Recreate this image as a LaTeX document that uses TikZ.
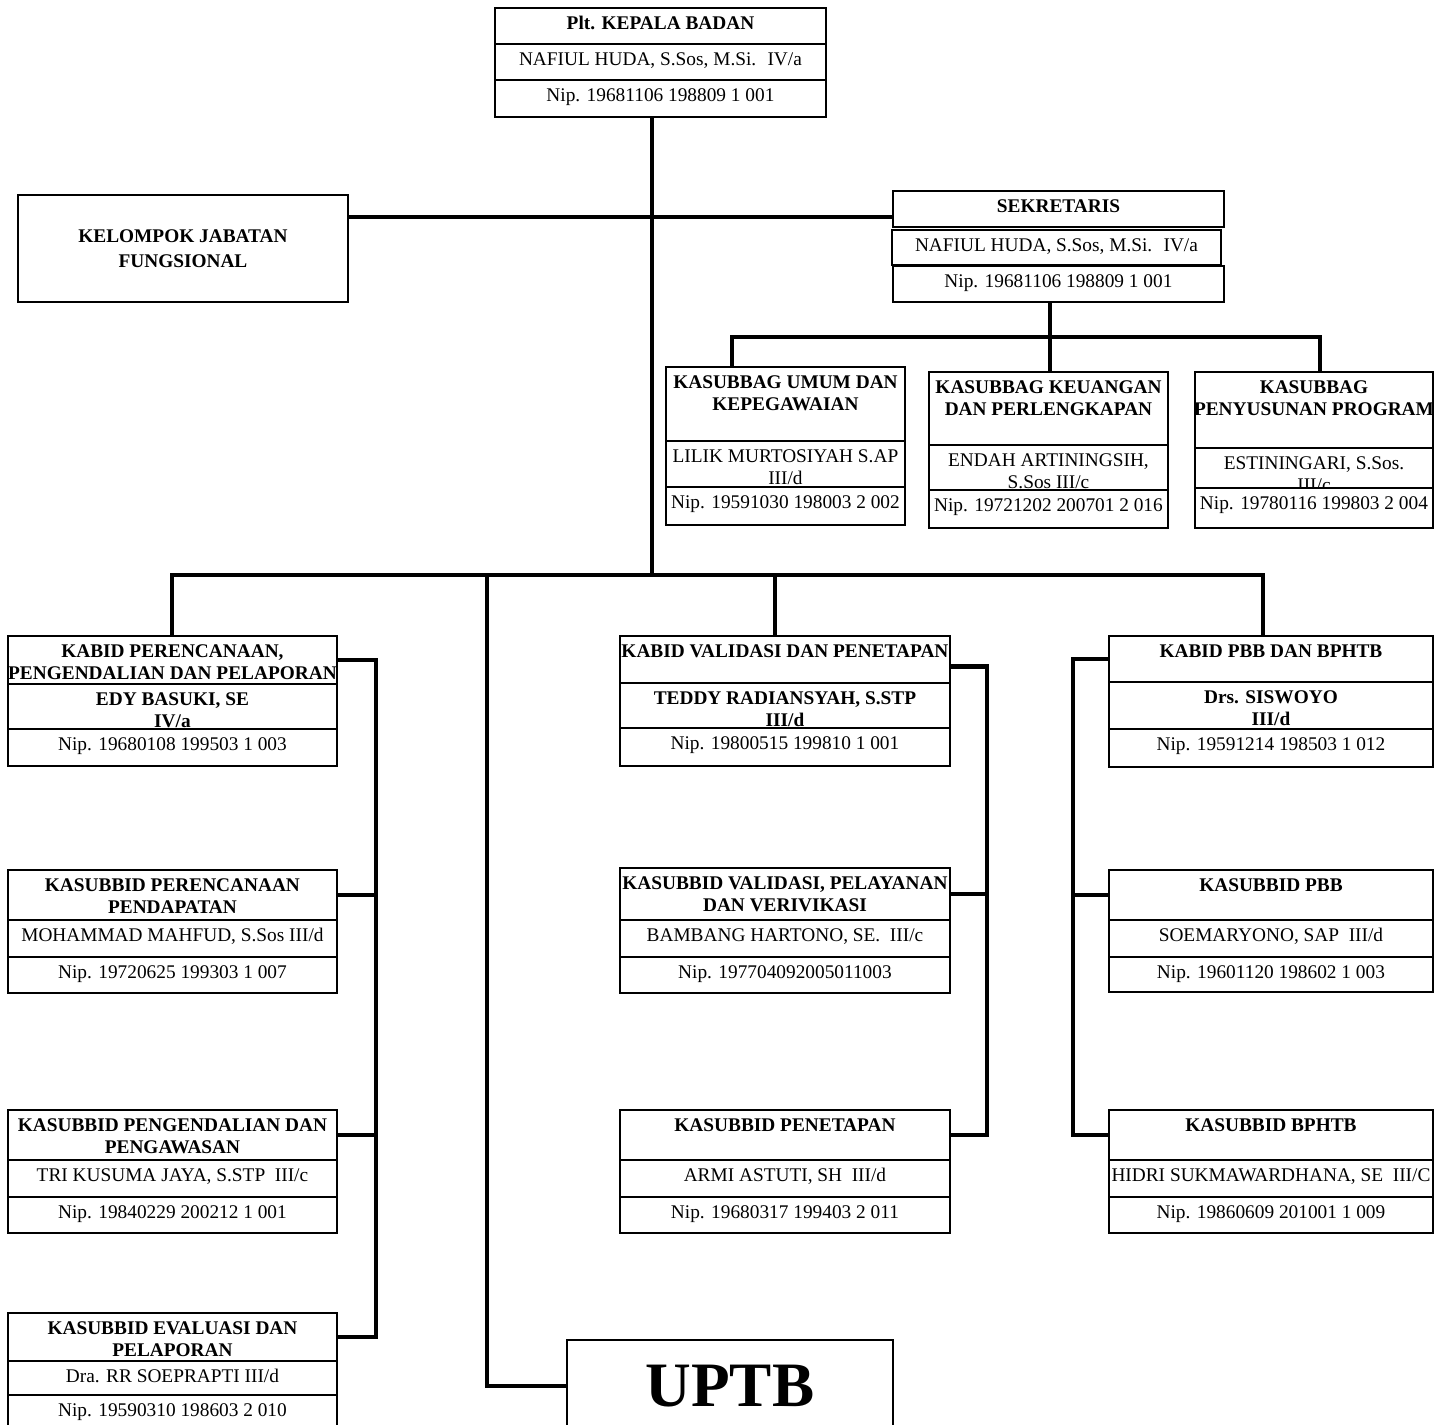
\documentclass[tikz,border=0pt]{standalone}
\usepackage{fontspec}
\setmainfont{Liberation Serif}
\usepackage{tikz}
\usetikzlibrary{arrows.meta}
\usetikzlibrary{positioning}
\usepackage{xcolor}

\begin{document}
\begin{tikzpicture}[x=0.02cm,y=-0.02cm,
  cell/.style={shape=rectangle,draw=black,line width=0.8pt,fill=white,
    anchor=north west,inner sep=0pt,outer sep=0pt},
  celltext/.style={anchor=north,inner sep=0pt,yshift=-4.5pt,align=center,
    font=\fontsize{11}{12.6}\selectfont},
  headtext/.style={celltext,font=\bfseries\fontsize{11}{12.6}\selectfont},
  bus/.style={line width=2.3pt,draw=black}]
      %\draw[help lines] (0,0) grid[step=100] (1434,1425); % Only for Development
      \useasboundingbox (0,0) rectangle (1434,1425);

      % Kepala Badan
      \node[cell,minimum width=6.62cm,minimum height=0.72cm,
        label={[headtext]north:{Plt. KEPALA BADAN}}] (kep1) at (495,8) {};
      \node[cell,minimum width=6.62cm,minimum height=0.72cm,
        label={[celltext]north:{NAFIUL HUDA, S.Sos, M.Si.~ IV/a}}] (kep2) at (495,44) {};
      \node[cell,minimum width=6.62cm,minimum height=0.74cm,
        label={[celltext]north:{Nip. 19681106 198809 1 001}}] (kep3) at (495,80) {};

      % Kelompok Jabatan Fungsional
      \node[cell,minimum width=6.6cm,minimum height=2.14cm,align=center,
        font=\bfseries\fontsize{11}{14}\selectfont] (kjf) at (18,195) {KELOMPOK JABATAN\\FUNGSIONAL};

      % Sekretaris
      \node[cell,minimum width=6.62cm,minimum height=0.72cm,
        label={[headtext]north:{SEKRETARIS}}] (sek1) at (893,191) {};
      \node[cell,minimum width=6.58cm,minimum height=0.70cm,
        label={[celltext]north:{NAFIUL HUDA, S.Sos, M.Si.~ IV/a}}] (sek2) at (892,230) {};
      \node[cell,minimum width=6.62cm,minimum height=0.72cm,
        label={[celltext]north:{Nip. 19681106 198809 1 001}}] (sek3) at (893,266) {};

      % Kasubbag
      \node[cell,minimum width=4.78cm,minimum height=1.48cm,
        label={[headtext]north:{KASUBBAG UMUM DAN\\KEPEGAWAIAN}}] (kum1) at (666,367) {};
      \node[cell,minimum width=4.78cm,minimum height=0.92cm,
        label={[celltext]north:{LILIK MURTOSIYAH S.AP\\III/d}}] (kum2) at (666,441) {};
      \node[cell,minimum width=4.78cm,minimum height=0.76cm,
        label={[celltext]north:{Nip. 19591030 198003 2 002}}] (kum3) at (666,487) {};

      \node[cell,minimum width=4.78cm,minimum height=1.46cm,
        label={[headtext]north:{KASUBBAG KEUANGAN\\DAN PERLENGKAPAN}}] (kku1) at (929,372) {};
      \node[cell,minimum width=4.78cm,minimum height=0.90cm,
        label={[celltext]north:{ENDAH ARTININGSIH,\\S.Sos III/c}}] (kku2) at (929,445) {};
      \node[cell,minimum width=4.78cm,minimum height=0.76cm,
        label={[celltext]north:{Nip. 19721202 200701 2 016}}] (kku3) at (929,490) {};

      \node[cell,minimum width=4.76cm,minimum height=1.52cm,
        label={[headtext]north:{KASUBBAG\\PENYUSUNAN PROGRAM}}] (kpp1) at (1195,372) {};
      \node[cell,minimum width=4.76cm,minimum height=0.80cm,
        label={[celltext]north:{ESTININGARI, S.Sos.\\III/c}}] (kpp2) at (1195,448) {};
      \node[cell,minimum width=4.76cm,minimum height=0.80cm,
        label={[celltext]north:{Nip. 19780116 199803 2 004}}] (kpp3) at (1195,488) {};

      % Bidang Perencanaan
      \node[cell,minimum width=6.58cm,minimum height=0.96cm,
        label={[headtext]north:{KABID PERENCANAAN,\\PENGENDALIAN DAN PELAPORAN}}] (kpr1) at (8,636) {};
      \node[cell,minimum width=6.58cm,minimum height=0.90cm,
        label={[headtext]north:{EDY BASUKI, SE\\IV/a}}] (kpr2) at (8,684) {};
      \node[cell,minimum width=6.58cm,minimum height=0.74cm,
        label={[celltext]north:{Nip. 19680108 199503 1 003}}] (kpr3) at (8,729) {};

      \node[cell,minimum width=6.58cm,minimum height=1.0cm,
        label={[headtext]north:{KASUBBID PERENCANAAN\\PENDAPATAN}}] (ksp1) at (8,870) {};
      \node[cell,minimum width=6.58cm,minimum height=0.74cm,
        label={[celltext]north:{MOHAMMAD MAHFUD, S.Sos III/d}}] (ksp2) at (8,920) {};
      \node[cell,minimum width=6.58cm,minimum height=0.72cm,
        label={[celltext]north:{Nip. 19720625 199303 1 007}}] (ksp3) at (8,957) {};

      \node[cell,minimum width=6.58cm,minimum height=1.0cm,
        label={[headtext]north:{KASUBBID PENGENDALIAN DAN\\PENGAWASAN}}] (kpg1) at (8,1110) {};
      \node[cell,minimum width=6.58cm,minimum height=0.74cm,
        label={[celltext]north:{TRI KUSUMA JAYA, S.STP~ III/c}}] (kpg2) at (8,1160) {};
      \node[cell,minimum width=6.58cm,minimum height=0.72cm,
        label={[celltext]north:{Nip. 19840229 200212 1 001}}] (kpg3) at (8,1197) {};

      \node[cell,minimum width=6.58cm,minimum height=0.96cm,
        label={[headtext]north:{KASUBBID EVALUASI DAN\\PELAPORAN}}] (kse1) at (8,1313) {};
      \node[cell,minimum width=6.58cm,minimum height=0.68cm,
        label={[celltext]north:{Dra. RR SOEPRAPTI III/d}}] (kse2) at (8,1361) {};
      \node[cell,minimum width=6.58cm,minimum height=0.80cm,
        label={[celltext]north:{Nip. 19590310 198603 2 010}}] (kse3) at (8,1395) {};

      % Bidang Validasi
      \node[cell,minimum width=6.6cm,minimum height=0.94cm,
        label={[headtext]north:{KABID VALIDASI DAN PENETAPAN}}] (kbv1) at (620,636) {};
      \node[cell,minimum width=6.6cm,minimum height=0.90cm,
        label={[headtext]north:{TEDDY RADIANSYAH, S.STP\\III/d}}] (kbv2) at (620,683) {};
      \node[cell,minimum width=6.6cm,minimum height=0.76cm,
        label={[celltext]north:{Nip. 19800515 199810 1 001}}] (kbv3) at (620,728) {};

      \node[cell,minimum width=6.6cm,minimum height=1.04cm,
        label={[headtext]north:{KASUBBID VALIDASI, PELAYANAN\\DAN VERIVIKASI}}] (kvs1) at (620,868) {};
      \node[cell,minimum width=6.6cm,minimum height=0.74cm,
        label={[celltext]north:{BAMBANG HARTONO, SE.~ III/c}}] (kvs2) at (620,920) {};
      \node[cell,minimum width=6.6cm,minimum height=0.72cm,
        label={[celltext]north:{Nip. 197704092005011003}}] (kvs3) at (620,957) {};

      \node[cell,minimum width=6.6cm,minimum height=1.0cm,
        label={[headtext]north:{KASUBBID PENETAPAN}}] (kpt1) at (620,1110) {};
      \node[cell,minimum width=6.6cm,minimum height=0.74cm,
        label={[celltext]north:{ARMI ASTUTI, SH~ III/d}}] (kpt2) at (620,1160) {};
      \node[cell,minimum width=6.6cm,minimum height=0.72cm,
        label={[celltext]north:{Nip. 19680317 199403 2 011}}] (kpt3) at (620,1197) {};

      % Bidang PBB dan BPHTB
      \node[cell,minimum width=6.48cm,minimum height=0.92cm,
        label={[headtext]north:{KABID PBB DAN BPHTB}}] (kbp1) at (1109,636) {};
      \node[cell,minimum width=6.48cm,minimum height=0.94cm,
        label={[headtext]north:{Drs. SISWOYO\\III/d}}] (kbp2) at (1109,682) {};
      \node[cell,minimum width=6.48cm,minimum height=0.76cm,
        label={[celltext]north:{Nip. 19591214 198503 1 012}}] (kbp3) at (1109,729) {};

      \node[cell,minimum width=6.48cm,minimum height=1.0cm,
        label={[headtext]north:{KASUBBID PBB}}] (kpb1) at (1109,870) {};
      \node[cell,minimum width=6.48cm,minimum height=0.74cm,
        label={[celltext]north:{SOEMARYONO, SAP~ III/d}}] (kpb2) at (1109,920) {};
      \node[cell,minimum width=6.48cm,minimum height=0.70cm,
        label={[celltext]north:{Nip. 19601120 198602 1 003}}] (kpb3) at (1109,957) {};

      \node[cell,minimum width=6.48cm,minimum height=1.0cm,
        label={[headtext]north:{KASUBBID BPHTB}}] (kbt1) at (1109,1110) {};
      \node[cell,minimum width=6.48cm,minimum height=0.74cm,
        label={[celltext]north:{HIDRI SUKMAWARDHANA, SE~ III/C}}] (kbt2) at (1109,1160) {};
      \node[cell,minimum width=6.48cm,minimum height=0.72cm,
        label={[celltext]north:{Nip. 19860609 201001 1 009}}] (kbt3) at (1109,1197) {};

      % UPTB
      \node[cell,minimum width=6.52cm,minimum height=1.84cm,
        font=\bfseries\fontsize{36}{40}\selectfont] (uptb) at (567,1340) {UPTB};

      % connectors
      \coordinate (trunk) at (652,575);
      \coordinate (midrow) at (652,217);
      \coordinate (sekbus) at (1050,337);
      \coordinate (uptbdrop) at (487,575);
      \coordinate (lspine) at (376,660);
      \coordinate (mspine) at (987,667);
      \coordinate (rspine) at (1073,663);

      \draw[bus] (kep3.south -| trunk) -- (trunk);
      \draw[bus] (kjf.east |- midrow) -- (sek1.west |- midrow);
      \draw[bus] (sek3.south -| sekbus) -- (sekbus |- kku1.north);
      \draw[bus] ([xshift=1.32cm]kum1.north west) |- (sekbus) -| ([xshift=0.12cm]kpp1.north);
      \draw[bus] (kpr1.north) |- (trunk) -| ([xshift=-0.16cm]kbp1.north);
      \draw[bus] ([xshift=-0.2cm]kbv1.north) |- (trunk);
      \draw[bus] (uptb.west) -| (uptbdrop);

      \draw[bus] (kpr1.east) -| (lspine |- kse1.east) -- (kse1.east);
      \draw[bus] (ksp1.east) -- (ksp1.east -| lspine);
      \draw[bus] (kpg1.east) -- (kpg1.east -| lspine);

      \draw[bus] ([yshift=-0.14cm]kbv1.east) -| (mspine |- kpt1.east) -- (kpt1.east);
      \draw[bus] (kvs1.east) -- (kvs1.east -| mspine);

      \draw[bus] (kbp1.west) -| (rspine |- kbt1.west) -- (kbt1.west);
      \draw[bus] (kpb1.west) -- (kpb1.west -| rspine);

    \end{tikzpicture}
\end{document}
